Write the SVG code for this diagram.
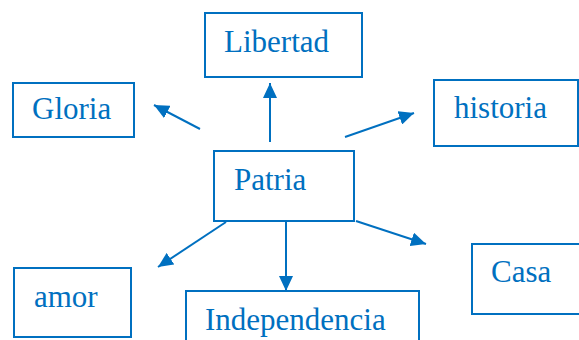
<svg xmlns="http://www.w3.org/2000/svg" width="579" height="340" viewBox="0 0 579 340">
<style>
.box{fill:#fff;stroke:#0070C0;stroke-width:2}
.lbl{font-family:"Liberation Serif","Times New Roman",Times,serif;font-size:31px;fill:#0070C0}
.con{stroke:#0070C0;stroke-width:2;fill:none;marker-end:url(#ah)}
</style>
<defs>
<marker id="ah" markerUnits="userSpaceOnUse" markerWidth="16" markerHeight="14" refX="15" refY="7" orient="auto">
<path d="M0,0 L15,7 L0,14 Z" fill="#0070C0"/>
</marker>
</defs>
<rect width="579" height="340" fill="#fff"/>
<g id="connectors">
<line class="con" x1="270" y1="142" x2="270" y2="83"/>
<line class="con" x1="200" y1="129" x2="154" y2="105"/>
<line class="con" x1="345" y1="137" x2="414" y2="113"/>
<line class="con" x1="226" y1="222" x2="158" y2="267"/>
<line class="con" x1="286" y1="222" x2="286" y2="291"/>
<line class="con" x1="356" y1="221" x2="426" y2="244"/>
</g>
<g id="libertad"><rect class="box" x="205" y="13" width="157" height="64"/><text class="lbl" x="224" y="52">Libertad</text></g>
<g id="gloria"><rect class="box" x="13" y="83" width="121" height="54"/><text class="lbl" x="32" y="119">Gloria</text></g>
<g id="historia"><rect class="box" x="434" y="80" width="144" height="66"/><text class="lbl" x="454" y="118">historia</text></g>
<g id="patria"><rect class="box" x="214" y="151" width="140" height="70"/><text class="lbl" x="234" y="190">Patria</text></g>
<g id="amor"><rect class="box" x="14" y="268" width="117" height="69"/><text class="lbl" x="34" y="307">amor</text></g>
<g id="independencia"><rect class="box" x="186" y="291" width="233" height="60"/><text class="lbl" x="205" y="330">Independencia</text></g>
<g id="casa"><rect class="box" x="472" y="244" width="110" height="70"/><text class="lbl" x="491" y="282">Casa</text></g>
</svg>
